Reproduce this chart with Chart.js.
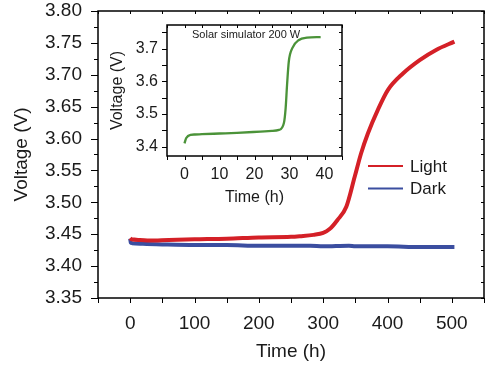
<!DOCTYPE html>
<html>
<head>
<meta charset="utf-8">
<script src="https://cdn.jsdelivr.net/npm/chart.js@4.4.1/dist/chart.umd.min.js"></script>
<style>
  html, body { margin: 0; padding: 0; background: #ffffff; }
  #wrap { position: relative; width: 500px; height: 369px; }
  #main { position: absolute; left: 0; top: 0; }
  #inset { position: absolute; left: 105px; top: 15px; }
</style>
</head>
<body>
<div id="wrap">
  <canvas id="main" width="500" height="369"></canvas>
  <canvas id="inset" width="245" height="195"></canvas>
</div>
<script>
// ---------- DATA ----------
const lightTime = [0, 2, 15, 30, 60, 100, 150, 200, 250, 264, 285, 300, 310, 322, 336, 349, 359, 369.5, 385, 400.5, 424, 450, 475.5, 504];
const lightVolt = [3.444, 3.442, 3.441, 3.440, 3.441, 3.442, 3.443, 3.445, 3.446, 3.447, 3.449, 3.452, 3.458, 3.472, 3.493, 3.540, 3.577, 3.608, 3.645, 3.676, 3.702, 3.723, 3.739, 3.752];

const darkTime = [0, 1, 3, 20, 50, 100, 150, 200, 250, 280, 300, 340, 350, 400, 450, 504];
const darkVolt = [3.443, 3.437, 3.436, 3.435, 3.434, 3.433, 3.433, 3.432, 3.432, 3.432, 3.431, 3.432, 3.431, 3.431, 3.430, 3.430];

const insetTime = [0, 0.5, 1.7, 3, 5, 10, 15, 21.7, 25, 27, 28.4, 28.9, 29.3, 29.8, 30.8, 32.7, 35, 38.9];
const insetVolt = [3.410, 3.426, 3.436, 3.437, 3.438, 3.440, 3.442, 3.446, 3.448, 3.451, 3.472, 3.518, 3.589, 3.661, 3.702, 3.727, 3.734, 3.736];

const seriesLabels = ['Light', 'Dark'];
const insetTitle = 'Solar simulator 200 W';

const mainXTicks = [0, 100, 200, 300, 400, 500];
const mainXMinor = [-50, 0, 50, 100, 150, 200, 250, 300, 350, 400, 450, 500, 550];
const mainYTicks = [3.35, 3.40, 3.45, 3.50, 3.55, 3.60, 3.65, 3.70, 3.75, 3.80];
const mainYMinor = [3.375, 3.425, 3.475, 3.525, 3.575, 3.625, 3.675, 3.725, 3.775];

const insetXTicks = [0, 10, 20, 30, 40];
const insetXMinor = [-5, 0, 5, 10, 15, 20, 25, 30, 35, 40, 45];
const insetYTicks = [3.4, 3.5, 3.6, 3.7];
const insetYMinor = [3.4, 3.45, 3.5, 3.55, 3.6, 3.65, 3.7, 3.75];

// ---------- STYLE ----------
const RED = '#d42027';
const BLUE = '#3b4ea0';
const GREEN = '#4b9339';
const FONT = "'Liberation Sans', Arial, Helvetica, sans-serif";
const TXT = '#1a1a1a';

function toXY(xs, ys) { return xs.map((x, i) => ({ x: x, y: ys[i] })); }

const frameTicks = {
  id: 'frameTicks',
  afterDraw(chart, args, o) {
    const ctx = chart.ctx;
    const { left, right, top, bottom } = chart.chartArea;
    const xs = chart.scales.x, ys = chart.scales.y;
    ctx.save();
    ctx.strokeStyle = '#000';
    ctx.lineWidth = o.lw;
    ctx.strokeRect(left, top, right - left, bottom - top);
    ctx.lineWidth = 1;
    const seg = (a, b, c, d) => { ctx.beginPath(); ctx.moveTo(a, b); ctx.lineTo(c, d); ctx.stroke(); };
    o.xMinor.forEach(v => {
      const p = Math.round(xs.getPixelForValue(v)) + 0.5;
      seg(p, bottom, p, bottom + o.xOut);
      seg(p, top, p, top + o.inLen);
    });
    o.yMajor.forEach(v => {
      const p = Math.round(ys.getPixelForValue(v)) + 0.5;
      seg(left, p, left - o.yOut, p);
      seg(right, p, right - o.inLen, p);
    });
    o.yMinor.forEach(v => {
      const p = Math.round(ys.getPixelForValue(v)) + 0.5;
      seg(left, p, left - o.yOutMinor, p);
      seg(right, p, right - o.inLen, p);
    });
    ctx.restore();
  }
};

const legendPlugin = {
  id: 'insideLegend',
  afterDraw(chart, args, o) {
    if (!o.show) return;
    const ctx = chart.ctx;
    const { right, top, bottom } = chart.chartArea;
    ctx.save();
    ctx.font = '17px ' + FONT;
    ctx.textBaseline = 'middle';
    ctx.fillStyle = TXT;
    chart.data.datasets.forEach((ds, i) => {
      const y = top + (bottom - top) * 0.54 + i * 22.5;
      const x0 = right - 116;
      ctx.strokeStyle = ds.borderColor;
      ctx.lineWidth = 2.2;
      ctx.beginPath(); ctx.moveTo(x0, y); ctx.lineTo(x0 + 35, y); ctx.stroke();
      ctx.fillText(ds.label, x0 + 42, y + 1);
    });
    ctx.restore();
  }
};

const insetTitlePlugin = {
  id: 'insetTitle',
  afterDraw(chart, args, o) {
    if (!o.text) return;
    const ctx = chart.ctx;
    const { left, top } = chart.chartArea;
    ctx.save();
    ctx.font = '11px ' + FONT;
    ctx.fillStyle = TXT;
    ctx.textBaseline = 'middle';
    ctx.fillText(o.text, left + 25, top + 10);
    ctx.restore();
  }
};

Chart.register(frameTicks, legendPlugin, insetTitlePlugin);

function fixedTicks(arr) {
  return function (scale) { scale.ticks = arr.map(v => ({ value: v })); };
}
function fitY(w) {
  return function (s) { s.width = w; s.paddingTop = 0; s.paddingBottom = 0; };
}
function fitX(h) {
  return function (s) { s.height = h; s.paddingLeft = 0; s.paddingRight = 0; };
}

// ---------- MAIN CHART ----------
new Chart(document.getElementById('main'), {
  type: 'line',
  data: {
    datasets: [
      { label: seriesLabels[0], data: toXY(lightTime, lightVolt), borderColor: RED, borderWidth: 4, pointRadius: 0, cubicInterpolationMode: 'monotone', fill: false },
      { label: seriesLabels[1], data: toXY(darkTime, darkVolt), borderColor: BLUE, borderWidth: 4, pointRadius: 0, cubicInterpolationMode: 'monotone', fill: false }
    ]
  },
  options: {
    responsive: false,
    devicePixelRatio: 1,
    animation: false,
    layout: { padding: { left: 0, right: 16, top: 11, bottom: 0 } },
    plugins: {
      legend: { display: false },
      tooltip: { enabled: false },
      frameTicks: { lw: 1.5, xMinor: mainXMinor, yMajor: mainYTicks, yMinor: mainYMinor, xOut: 5, yOut: 7, yOutMinor: 4, inLen: 3 },
      insideLegend: { show: true },
      insetTitle: { text: '' }
    },
    scales: {
      x: {
        type: 'linear', min: -50, max: 550,
        afterBuildTicks: fixedTicks(mainXTicks),
        afterFit: fitX(71),
        grid: { display: false, drawTicks: false },
        border: { display: false },
        ticks: { padding: 14, color: TXT, font: { family: FONT, size: 19 }, maxRotation: 0, autoSkip: false, callback: v => String(v) },
        title: { display: true, text: 'Time (h)', color: TXT, font: { family: FONT, size: 19 }, padding: { top: 0, bottom: 6 } }
      },
      y: {
        type: 'linear', min: 3.35, max: 3.80,
        afterBuildTicks: fixedTicks(mainYTicks),
        afterFit: fitY(98),
        grid: { display: false, drawTicks: false },
        border: { display: false },
        ticks: { padding: 16, color: TXT, font: { family: FONT, size: 19 }, autoSkip: false, callback: v => Number(v).toFixed(2) },
        title: { display: true, text: 'Voltage (V)', color: TXT, font: { family: FONT, size: 19 }, padding: { top: 10, bottom: 0 } }
      }
    }
  }
});

// ---------- INSET CHART ----------
new Chart(document.getElementById('inset'), {
  type: 'line',
  data: {
    datasets: [
      { label: insetTitle, data: toXY(insetTime, insetVolt), borderColor: GREEN, borderWidth: 2.3, pointRadius: 0, cubicInterpolationMode: 'monotone', fill: false }
    ]
  },
  options: {
    responsive: false,
    devicePixelRatio: 1,
    animation: false,
    layout: { padding: { left: 0, right: 8, top: 10, bottom: 0 } },
    plugins: {
      legend: { display: false },
      tooltip: { enabled: false },
      frameTicks: { lw: 1.5, xMinor: insetXMinor, yMajor: insetYMinor, yMinor: [], xOut: 4, yOut: 5, yOutMinor: 3, inLen: 3 },
      insideLegend: { show: false },
      insetTitle: { text: insetTitle }
    },
    scales: {
      x: {
        type: 'linear', min: -5, max: 45,
        afterBuildTicks: fixedTicks(insetXTicks),
        afterFit: fitX(54),
        grid: { display: false, drawTicks: false },
        border: { display: false },
        ticks: { padding: 9, color: TXT, font: { family: FONT, size: 16 }, maxRotation: 0, autoSkip: false, callback: v => String(v) },
        title: { display: true, text: 'Time (h)', color: TXT, font: { family: FONT, size: 16 }, padding: { top: 0, bottom: 3 } }
      },
      y: {
        type: 'linear', min: 3.371, max: 3.773,
        afterBuildTicks: fixedTicks(insetYTicks),
        afterFit: fitY(62),
        grid: { display: false, drawTicks: false },
        border: { display: false },
        ticks: { padding: 9, color: TXT, font: { family: FONT, size: 16 }, autoSkip: false, callback: v => Number(v).toFixed(1) },
        title: { display: true, text: 'Voltage (V)', color: TXT, font: { family: FONT, size: 16 }, padding: { top: 3, bottom: 0 } }
      }
    }
  }
});
</script>
</body>
</html>
